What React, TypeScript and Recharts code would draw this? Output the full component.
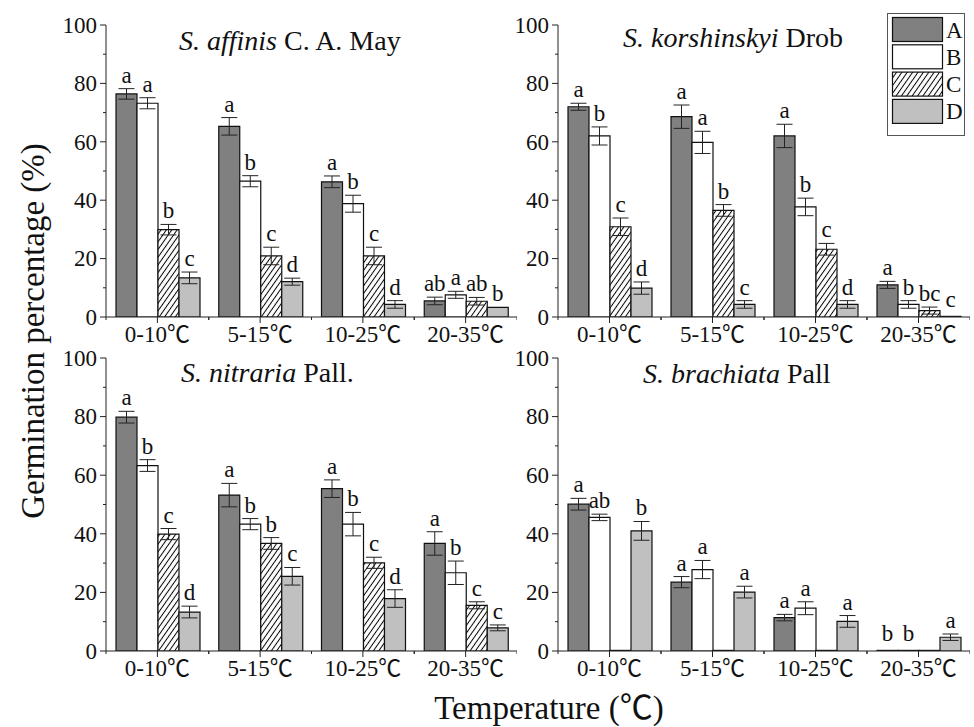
import React from "react";
import { BarChart, Bar, XAxis, YAxis, ErrorBar, LabelList, Legend } from "recharts";

const FONT = "'Liberation Serif', 'Noto Sans CJK SC', serif";

const temps = ["0-10℃", "5-15℃", "10-25℃", "20-35℃"];
const yTicks = [0, 10, 20, 30, 40, 50, 60, 70, 80, 90, 100];
const seriesKeys = ["A", "B", "C", "D"];

// S. affinis C. A. May
const affinisA = [76.4, 65.3, 46.3, 5.5];
const affinisB = [73.2, 46.5, 38.8, 7.6];
const affinisC = [29.9, 20.9, 20.9, 5.4];
const affinisD = [13.4, 12.1, 4.3, 3.3];
const affinisErrA = [1.8, 3.0, 2.0, 1.3];
const affinisErrB = [1.9, 1.9, 2.9, 1.2];
const affinisErrC = [1.8, 3.0, 3.0, 1.3];
const affinisErrD = [2.0, 1.2, 1.3, 0];
const affinisLetA = ["a", "a", "a", "ab"];
const affinisLetB = ["a", "b", "b", "a"];
const affinisLetC = ["b", "c", "c", "ab"];
const affinisLetD = ["c", "d", "d", "b"];

// S. korshinskyi Drob
const korshA = [72.0, 68.6, 62.0, 11.0];
const korshB = [62.0, 59.8, 37.7, 4.3];
const korshC = [30.9, 36.5, 23.2, 2.2];
const korshD = [9.9, 4.3, 4.3, 0];
const korshErrA = [1.2, 4.0, 4.0, 1.2];
const korshErrB = [3.1, 3.8, 3.0, 1.3];
const korshErrC = [3.0, 2.0, 2.0, 1.2];
const korshErrD = [2.1, 1.3, 1.3, 0];
const korshLetA = ["a", "a", "a", "a"];
const korshLetB = ["b", "a", "b", "b"];
const korshLetC = ["c", "b", "c", "bc"];
const korshLetD = ["d", "c", "d", "c"];

// S. nitraria Pall.
const nitrA = [79.8, 53.2, 55.4, 36.7];
const nitrB = [63.3, 43.3, 43.3, 26.7];
const nitrC = [39.9, 36.7, 30.1, 15.6];
const nitrD = [13.3, 25.5, 17.9, 7.9];
const nitrErrA = [2.0, 4.0, 3.0, 4.0];
const nitrErrB = [2.0, 1.9, 4.0, 4.0];
const nitrErrC = [1.9, 2.0, 1.9, 1.2];
const nitrErrD = [2.0, 3.0, 3.0, 1.0];
const nitrLetA = ["a", "a", "a", "a"];
const nitrLetB = ["b", "b", "b", "b"];
const nitrLetC = ["c", "b", "c", "c"];
const nitrLetD = ["d", "c", "d", "c"];

// S. brachiata Pall (no C treatment)
const brachA = [50.1, 23.5, 11.4, 0];
const brachB = [45.6, 27.8, 14.6, 0];
const brachC = [0, 0, 0, 0];
const brachD = [41.0, 20.1, 10.1, 4.7];
const brachErrA = [2.0, 1.9, 1.1, 0];
const brachErrB = [1.1, 3.1, 2.2, 0];
const brachErrC = [0, 0, 0, 0];
const brachErrD = [3.2, 2.0, 2.0, 1.1];
const brachLetA = ["a", "a", "a", "b"];
const brachLetB = ["ab", "a", "a", "b"];
const brachLetC = ["", "", "", ""];
const brachLetD = ["b", "a", "a", "a"];

function buildRows(vals: number[][], errs: number[][], lets: string[][]) {
  return temps.map((t, i) => {
    const row: any = { temp: t };
    seriesKeys.forEach((k, j) => {
      row[k] = vals[j][i];
      row["e" + k] = errs[j][i];
      row["l" + k] = lets[j][i];
    });
    return row;
  });
}

const panels = [
  {
    id: "tl", left: 40, top: 0, width: 477, height: 347, yw: 66, tx: 179, ty: 50,
    italic: "S. affinis", rest: " C. A. May",
    rows: buildRows(
      [affinisA, affinisB, affinisC, affinisD],
      [affinisErrA, affinisErrB, affinisErrC, affinisErrD],
      [affinisLetA, affinisLetB, affinisLetC, affinisLetD]
    ),
  },
  {
    id: "tr", left: 490, top: 0, width: 480, height: 347, yw: 68, tx: 623, ty: 47,
    italic: "S. korshinskyi", rest: " Drob", legend: true,
    rows: buildRows(
      [korshA, korshB, korshC, korshD],
      [korshErrA, korshErrB, korshErrC, korshErrD],
      [korshLetA, korshLetB, korshLetC, korshLetD]
    ),
  },
  {
    id: "bl", left: 40, top: 333, width: 477, height: 348, yw: 66, tx: 181, ty: 382,
    italic: "S. nitraria", rest: " Pall.",
    rows: buildRows(
      [nitrA, nitrB, nitrC, nitrD],
      [nitrErrA, nitrErrB, nitrErrC, nitrErrD],
      [nitrLetA, nitrLetB, nitrLetC, nitrLetD]
    ),
  },
  {
    id: "br", left: 490, top: 333, width: 480, height: 348, yw: 68, tx: 643, ty: 383,
    italic: "S. brachiata", rest: " Pall",
    rows: buildRows(
      [brachA, brachB, brachC, brachD],
      [brachErrA, brachErrB, brachErrC, brachErrD],
      [brachLetA, brachLetB, brachLetC, brachLetD]
    ),
  },
];

function fillFor(k: string, id: string) {
  if (k === "A") return "#808080";
  if (k === "B") return "#ffffff";
  if (k === "C") return `url(#hatch-${id})`;
  return "#c0c0c0";
}

const XTick = (props: any) => {
  const { x, y, payload } = props;
  const off = payload && payload.offset ? payload.offset : 51.5;
  return (
    <g>
      <line x1={x} y1={y} x2={x} y2={y + 6} stroke="#222" />
      <line x1={x - off} y1={y} x2={x - off} y2={y + 3} stroke="#222" />
      <line x1={x + off} y1={y} x2={x + off} y2={y + 3} stroke="#222" />
      <text x={x} y={y + 25} textAnchor="middle" fontSize={23} fontFamily={FONT} fill="#111">
        {payload.value}
      </text>
    </g>
  );
};

const YTick = (props: any) => {
  const { x, y, payload } = props;
  const major = payload.value % 20 === 0;
  return (
    <g>
      <line x1={x - (major ? 6 : 3)} y1={y} x2={x} y2={y} stroke="#222" />
      {major && (
        <text x={x - 9} y={y} dy="0.34em" textAnchor="end" fontSize={23} fontFamily={FONT} fill="#111">
          {payload.value}
        </text>
      )}
    </g>
  );
};

// significance letter above the error bar
function letterLabel(rows: any[], k: string) {
  return (props: any) => {
    const vb = props.viewBox || {};
    const x = props.x ?? vb.x;
    const y = props.y ?? vb.y;
    const w = props.width ?? vb.width;
    const h = props.height ?? vb.height;
    const row = rows[props.index];
    if (!row) return null;
    const txt = row["l" + k];
    if (!txt) return null;
    const v = row[k];
    const e = row["e" + k];
    const top = Math.min(y, y + h);
    const hh = Math.abs(h);
    const base = v > 0 && hh > 0 ? top - (e * hh) / v - 6 : top - 9;
    return (
      <text x={x + w / 2} y={base} textAnchor="middle" fontSize={23} fontFamily={FONT} fill="#111">
        {txt}
      </text>
    );
  };
}

const LegendBox = (props: any) => {
  const payload = props.payload || [];
  return (
    <svg width={78} height={123} style={{ display: "block" }}>
      <defs>
        <pattern id="hatch-legend" patternUnits="userSpaceOnUse" width={4.4} height={4.4} patternTransform="rotate(35)">
          <rect width={4.4} height={4.4} fill="#fff" />
          <line x1={2.2} y1={0} x2={2.2} y2={4.4} stroke="#000" strokeWidth={1} />
        </pattern>
      </defs>
      <rect x={0.5} y={0.5} width={77} height={122} fill="#fff" stroke="#555" />
      {payload.map((entry: any, i: number) => {
        const k = entry.value;
        const f = k === "C" ? "url(#hatch-legend)" : fillFor(k, "legend");
        const ry = 4.5 + i * 27.3;
        return (
          <g key={k}>
            <rect x={5.5} y={ry} width={50} height={24} fill={f} stroke="#111" strokeWidth={1.2} />
            <text x={59} y={ry + 20} fontSize={23} fontFamily={FONT} fill="#111">
              {k}
            </text>
          </g>
        );
      })}
    </svg>
  );
};

function Panel({ p }: { p: any }) {
  return (
    <div style={{ position: "absolute", left: p.left, top: p.top }}>
      <BarChart
        width={p.width}
        height={p.height}
        data={p.rows}
        margin={{ top: 25, right: 0, bottom: 0, left: 0 }}
        barCategoryGap={10}
        barGap={0}
      >
        <defs>
          <pattern id={`hatch-${p.id}`} patternUnits="userSpaceOnUse" width={4.4} height={4.4} patternTransform="rotate(35)">
            <rect width={4.4} height={4.4} fill="#fff" />
            <line x1={2.2} y1={0} x2={2.2} y2={4.4} stroke="#000" strokeWidth={1} />
          </pattern>
        </defs>
        <XAxis
          dataKey="temp"
          height={30}
          interval={0}
          tickLine={false}
          tickSize={0}
          tickMargin={0}
          axisLine={{ stroke: "#222" }}
          tick={XTick}
        />
        <YAxis
          type="number"
          domain={[0, 100]}
          ticks={yTicks}
          interval={0}
          width={p.yw}
          allowDataOverflow
          tickLine={false}
          tickSize={0}
          tickMargin={0}
          axisLine={{ stroke: "#222" }}
          tick={YTick}
        />
        {seriesKeys.map((k) => (
          <Bar
            key={k}
            dataKey={k}
            name={k}
            fill={fillFor(k, p.id)}
            stroke="#111"
            strokeWidth={1.2}
            minPointSize={0.6}
            isAnimationActive={false}
          >
            <ErrorBar dataKey={"e" + k} width={8} stroke="#222" strokeWidth={1} isAnimationActive={false} />
            <LabelList dataKey={"l" + k} content={letterLabel(p.rows, k)} />
          </Bar>
        ))}
        {p.legend && (
          <Legend
            layout="vertical"
            align="center"
            verticalAlign="middle"
            wrapperStyle={{ left: 397, top: 13, width: 78, height: 123 }}
            content={LegendBox}
          />
        )}
      </BarChart>
    </div>
  );
}

export default function App() {
  return (
    <div style={{ position: "absolute", left: 0, top: 0, width: 974, height: 727, background: "#fff" }}>
      {panels.map((p) => (
        <Panel key={p.id} p={p} />
      ))}
      <svg width={974} height={727} style={{ position: "absolute", left: 0, top: 0, pointerEvents: "none" }}>
        {panels.map((p) => (
          <text key={p.id} x={p.tx} y={p.ty} fontSize={28} fontFamily={FONT} fill="#111">
            <tspan fontStyle="italic">{p.italic}</tspan>
            <tspan>{p.rest}</tspan>
          </text>
        ))}
        <text
          x={44}
          y={331}
          transform="rotate(-90 44 331)"
          textAnchor="middle"
          fontSize={33}
          fontFamily={FONT}
          fill="#111"
        >
          Germination percentage (%)
        </text>
        <text x={549} y={719} textAnchor="middle" fontSize={33} fontFamily={FONT} fill="#111">
          Temperature (℃)
        </text>
      </svg>
    </div>
  );
}
